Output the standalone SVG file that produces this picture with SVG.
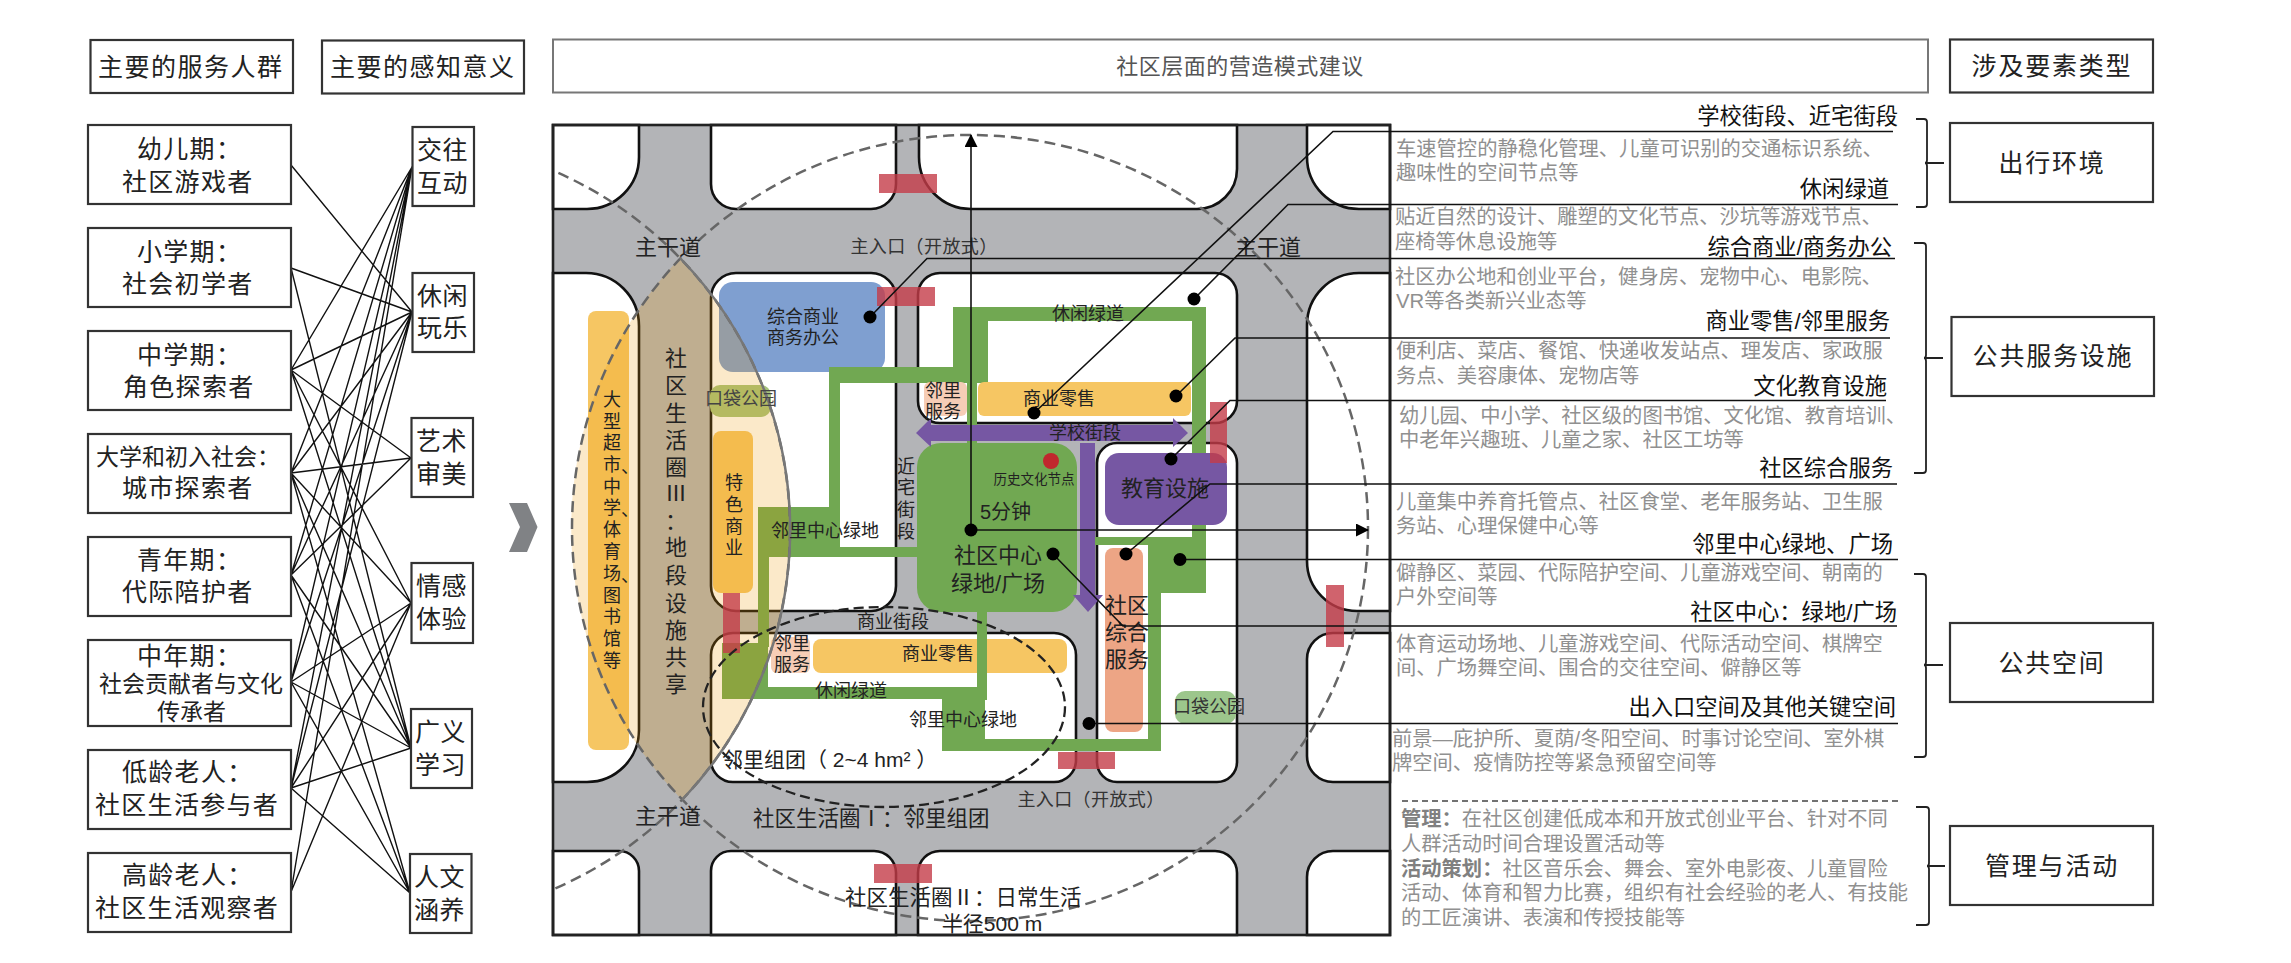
<svg xmlns="http://www.w3.org/2000/svg" width="2291" height="963" viewBox="0 0 2291 963">
<defs>
<style>
text{font-family:"Liberation Sans","Noto Sans CJK SC",sans-serif;dominant-baseline:central;fill:#222}
.box{fill:#fff;stroke:#333;stroke-width:2.2}
.h{font-size:25px;letter-spacing:1.5px}
.p{font-size:25px;letter-spacing:1.3px}
.s{font-size:23px}
.two{font-size:25px;letter-spacing:.5px}
.type{font-size:25px;letter-spacing:1.8px;text-anchor:middle}
.link{stroke:#111;stroke-width:1.4;fill:none}
.blk{fill:#fff;stroke:#111;stroke-width:2.6}
.g{fill:#71a852}
.y{fill:#f6c663}
.sv{fill:#f6cdb6}
.r{fill:#c43c48;opacity:.8}
.m{font-size:18px;text-anchor:middle}
.b{font-size:22px;text-anchor:middle}
.lead{stroke:#111;stroke-width:1.6;fill:none}
.dot{fill:#000}
.tt{font-size:22.3px;text-anchor:end;fill:#111}
.d{font-size:20.3px;fill:#909090}
.dz{font-weight:700;fill:#808080}
.br{stroke:#222;stroke-width:1.8;fill:none}
</style>
<marker id="ah" markerWidth="13" markerHeight="14" refX="12" refY="6.5" orient="auto" markerUnits="userSpaceOnUse"><path d="M0 0L13 6.5L0 13Z" fill="#000"/></marker>
<clipPath id="cf"><rect x="553" y="125" width="837" height="810"/></clipPath>
</defs>
<rect width="2291" height="963" fill="#fff"/>

<g id="head-people"><rect class="box" x="90.5" y="40" width="202.500" height="53"/><text class="h" x="98" y="67">主要的服务人群</text></g>
<g id="head-sense"><rect class="box" x="322" y="40.500" width="202" height="53"/><text class="h" x="330" y="67">主要的感知意义</text></g>
<g id="head-mode"><rect x="553" y="39.500" width="1375" height="53" fill="#fff" stroke="#777" stroke-width="2"/><text x="1240" y="66" font-size="22" text-anchor="middle" style="fill:#555;letter-spacing:.5px">社区层面的营造模式建议</text></g>
<g id="head-type"><rect class="box" x="1950" y="39.500" width="203" height="53"/><text class="type" x="2052" y="66">涉及要素类型</text></g>

<g id="connectors">
<path class="link" d="M291 165L412 312M291 268L412 312M291 268L411 748M291 370L412 167M291 370L412 312M291 370L411 458M291 370L411 603M291 370L411 748M291 473L412 167M291 473L412 312M291 473L411 458M291 473L411 603M291 473L411 748M291 473L410 893M291 575L412 167M291 575L412 312M291 575L411 458M291 575L411 748M291 575L410 893M291 682L412 167M291 682L412 312M291 682L411 603M291 682L411 748M291 682L410 893M291 788L412 167M291 788L412 312M291 788L411 603M291 788L411 748M291 788L410 893M291 892L412 167M291 892L411 603"/>
</g>

<g id="p1"><rect class="box" x="88" y="125" width="203" height="79"/><text class="p" x="137" y="149">幼儿期：</text><text class="p" x="122" y="182">社区游戏者</text></g>
<g id="p2"><rect class="box" x="88" y="228" width="203" height="79"/><text class="p" x="137" y="252">小学期：</text><text class="p" x="122" y="284">社会初学者</text></g>
<g id="p3"><rect class="box" x="88" y="331" width="203" height="79"/><text class="p" x="137" y="355">中学期：</text><text class="p" x="123" y="387">角色探索者</text></g>
<g id="p4"><rect class="box" x="88" y="434" width="203" height="79"/><text class="s" x="96" y="457">大学和初入社会：</text><text class="p" x="122" y="488">城市探索者</text></g>
<g id="p5"><rect class="box" x="88" y="537" width="203" height="79"/><text class="p" x="137" y="560">青年期：</text><text class="p" x="122" y="592">代际陪护者</text></g>
<g id="p6"><rect class="box" x="88" y="640" width="203" height="86"/><text class="p" x="137" y="656">中年期：</text><text class="s" x="99" y="684">社会贡献者与文化</text><text class="s" x="157" y="712">传承者</text></g>
<g id="p7"><rect class="box" x="88" y="750" width="203" height="79"/><text class="p" x="122" y="772">低龄老人：</text><text class="p" x="95" y="805">社区生活参与者</text></g>
<g id="p8"><rect class="box" x="88" y="853" width="203" height="79"/><text class="p" x="122" y="875">高龄老人：</text><text class="p" x="95" y="908">社区生活观察者</text></g>

<g id="s1"><rect class="box" x="412.500" y="127" width="61.500" height="79"/><text class="two" x="417" y="150">交往</text><text class="two" x="417" y="183">互动</text></g>
<g id="s2"><rect class="box" x="412.500" y="273" width="61.500" height="79"/><text class="two" x="417" y="296">休闲</text><text class="two" x="417" y="328">玩乐</text></g>
<g id="s3"><rect class="box" x="411.500" y="418" width="61.500" height="79"/><text class="two" x="416" y="441">艺术</text><text class="two" x="416" y="474">审美</text></g>
<g id="s4"><rect class="box" x="411.500" y="563" width="61.500" height="80"/><text class="two" x="416" y="586">情感</text><text class="two" x="416" y="619">体验</text></g>
<g id="s5"><rect class="box" x="411" y="709" width="61" height="79"/><text class="two" x="415" y="732">广义</text><text class="two" x="415" y="765">学习</text></g>
<g id="s6"><rect class="box" x="410" y="854" width="61.500" height="79"/><text class="two" x="414" y="877">人文</text><text class="two" x="414" y="910">涵养</text></g>

<polygon id="chevron" points="509,503 527,503 537.500,527 527,552 509,552 520,527" fill="#808285"/>

<g id="map">
<rect x="553" y="125" width="837" height="810" fill="#b3b4b7"/>
<path class="blk" d="M553 125H639V157A52 52 0 0 1 587 209H553Z"/>
<path class="blk" d="M711 125H896V184A25 25 0 0 1 871 209H736A25 25 0 0 1 711 184Z"/>
<path class="blk" d="M919 125H1237V169A40 40 0 0 1 1197 209H971A52 52 0 0 1 919 157Z"/>
<path class="blk" d="M1307 125H1390V209H1359A52 52 0 0 1 1307 157Z"/>
<path class="blk" d="M553 273H586A53 53 0 0 1 639 326V730A52 52 0 0 1 587 782H553Z"/>
<rect class="blk" x="711" y="273" width="185" height="338" rx="25"/>
<rect class="blk" x="918" y="273" width="319" height="150" rx="22"/>
<path class="blk" d="M1359 273H1390V611H1357A50 50 0 0 1 1307 561V325A52 52 0 0 1 1359 273Z"/>
<path class="blk" d="M1333 633H1390V782H1333A26 26 0 0 1 1307 756V659A26 26 0 0 1 1333 633Z"/>
<rect class="blk" x="711" y="633" width="365" height="149" rx="22"/>
<rect class="blk" x="1097" y="443" width="140" height="339" rx="20"/>
<path class="blk" d="M553 851H619A20 20 0 0 1 639 871V935H553Z"/>
<path class="blk" d="M731 851H874A22 22 0 0 1 896 873V935H711V871A20 20 0 0 1 731 851Z"/>
<path class="blk" d="M940 851H1215A22 22 0 0 1 1237 873V935H918V873A22 22 0 0 1 940 851Z"/>
<path class="blk" d="M1333 851H1390V935H1307V877A26 26 0 0 1 1333 851Z"/>

<rect class="y" x="588" y="311" width="41" height="439" rx="8"/>
<rect x="719" y="282" width="166" height="90" rx="14" fill="#7f9fd0"/>
<rect class="y" x="713" y="431" width="40" height="162" rx="8"/>
<rect class="y" x="813" y="639" width="254" height="34" rx="8"/>
<rect class="sv" x="771" y="637" width="39" height="36" rx="6"/>

<g id="greenway">
<rect class="g" x="829" y="367" width="124" height="16"/>
<rect class="g" x="829" y="367" width="11" height="140"/>
<rect class="g" x="758" y="507" width="82" height="50"/>
<rect class="g" x="758" y="557" width="11" height="90"/>
<rect class="g" x="722" y="643" width="46" height="56"/>
<rect class="g" x="722" y="687" width="265" height="12"/>
<rect class="g" x="840" y="547" width="77" height="10"/>
<rect class="g" x="953" y="307" width="35" height="76"/>
<rect class="g" x="953" y="307" width="253" height="14"/>
<rect class="g" x="1192" y="307" width="14" height="286"/>
<rect class="g" x="1148" y="537" width="58" height="56"/>
<rect class="g" x="1095" y="537" width="53" height="8"/>
<rect class="g" x="1148" y="537" width="13" height="214"/>
<rect class="g" x="942" y="739" width="219" height="12"/>
<rect class="g" x="942" y="699" width="43" height="52"/>
<rect class="g" x="977" y="612" width="10" height="88"/>
<rect class="g" x="967" y="383" width="10" height="60"/>
</g>

<rect class="y" x="978" y="382" width="213" height="34" rx="6"/>
<rect class="sv" x="924" y="382" width="43" height="34" rx="6"/>
<rect class="g" x="917" y="443" width="160" height="169" rx="24"/>
<polygon points="916,433 931,418 931,425 1173,425 1173,418 1188,433 1173,447 1173,441 931,441 931,447" fill="#7657a3"/>
<polygon points="1080,443 1095,443 1095,595 1103,595 1088,612 1073,595 1080,595" fill="#7657a3"/>
<rect x="1105" y="453" width="122" height="72" rx="14" fill="#7657a3"/>
<rect x="1105" y="548" width="38" height="184" rx="8" fill="#eda585"/>
<rect x="1175" y="691" width="61" height="33" rx="10" fill="#9cc68c"/>
<rect x="710" y="385" width="61" height="32" rx="10" fill="#a7c47c"/>
<circle cx="1051" cy="461" r="8" fill="#c0282d"/>

<path d="M680 258A398 393 0 0 0 682 800A391 391 0 0 0 680 258Z" fill="#ee9600" fill-opacity=".21"/>

<rect class="r" x="879" y="174" width="58" height="19"/>
<rect class="r" x="877" y="287" width="58" height="19"/>
<rect class="r" x="723" y="593" width="17" height="60"/>
<rect class="r" x="1210" y="402" width="17" height="61"/>
<rect class="r" x="1326" y="585" width="18" height="62"/>
<rect class="r" x="1058" y="752" width="57" height="17"/>
<rect class="r" x="874" y="864" width="58" height="19"/>

<g clip-path="url(#cf)" fill="none">
<ellipse cx="970" cy="528" rx="398" ry="393" stroke="#666" stroke-width="2.500" stroke-dasharray="11 6"/>
<circle cx="399" cy="530" r="391" stroke="#666" stroke-width="2.500" stroke-dasharray="11 6"/>
<path d="M682 800A391 391 0 0 0 680 258" stroke="#777" stroke-width="2.500"/>
<ellipse cx="884" cy="707" rx="181" ry="100" stroke="#222" stroke-width="2.300" stroke-dasharray="10 5"/>
</g>
<rect x="553" y="125" width="837" height="810" fill="none" stroke="#222" stroke-width="2.600"/>

<text class="b" x="668" y="247">主干道</text>
<text class="b" x="1268" y="247">主干道</text>
<text class="b" x="668" y="816">主干道</text>
<text class="m" x="924" y="247" style="fill:#333;letter-spacing:.4px">主入口（开放式）</text>
<text class="m" x="1091" y="800" style="fill:#333;letter-spacing:.4px">主入口（开放式）</text>
<text class="m" x="803" y="317">综合商业</text><text class="m" x="803" y="338">商务办公</text>
<text class="m" x="741" y="399" style="fill:#444">口袋公园</text>
<text class="m" x="1209" y="707" style="fill:#333">口袋公园</text>
<text class="m" x="943" y="391">邻里</text><text class="m" x="943" y="412">服务</text>
<text class="m" x="1059" y="399">商业零售</text>
<text class="m" x="1088" y="314">休闲绿道</text>
<text class="m" x="1085" y="433">学校街段</text>
<text x="1034" y="479" font-size="13.500" text-anchor="middle">历史文化节点</text>
<text x="980" y="512" font-size="20">5分钟</text>
<text class="m" x="906 906 906 906" y="467 488 510 532">近宅街段</text>
<text class="b" x="998" y="555">社区中心</text><text class="b" x="998" y="583">绿地/广场</text>
<text class="b" x="1165" y="488">教育设施</text>
<text class="b" x="1127" y="605">社区</text><text class="b" x="1127" y="632">综合</text><text class="b" x="1127" y="659">服务</text>
<text class="m" x="825" y="531">邻里中心绿地</text>
<text class="m" x="893" y="622">商业街段</text>
<text class="m" x="792" y="644">邻里</text><text class="m" x="792" y="665">服务</text>
<text class="m" x="938" y="654">商业零售</text>
<text class="m" x="851" y="691">休闲绿道</text>
<text class="m" x="963" y="720">邻里中心绿地</text>
<text x="722" y="759" font-size="21" xml:space="preserve">邻里组团（ 2~4 hm² ）</text>
<text x="753" y="819" font-size="21.500">社区生活圈Ⅰ：邻里组团</text>
<text x="845" y="898" font-size="21.500">社区生活圈Ⅱ：日常生活</text>
<text x="992" y="923" font-size="21" text-anchor="middle">半径500 m</text>
<text class="b" x="676 676 676 676 676 676 676 676 676 676 676 676 676" y="358 385 413 440 467 493 521 547 575 603 630 657 684">社区生活圈Ⅲ：地段设施共享</text>
<text class="m" x="612 612 612 612 630 612 612 630 612 612 612 630 612 612 612 612" y="400 422 443 465 467 487 508 510 530 552 574 576 596 617 639 661">大型超市、中学、体育场、图书馆等</text>
<text class="m" x="734 734 734 734" y="483 505 527 548">特色商业</text>

<g id="leaders">
<path class="lead" d="M870 317L927 258.500H1895"/>
<path class="lead" d="M1034 413L1333 131.500H1893"/>
<path class="lead" d="M1194 299L1288 204.500H1898"/>
<path class="lead" d="M1176 396L1235 338H1890"/>
<path class="lead" d="M1171 459L1230 400.500H1886"/>
<path class="lead" d="M1126 554L1210 484H1897"/>
<path class="lead" d="M1180 559.500H1898"/>
<path class="lead" d="M1053 554L1123 626H1897"/>
<path class="lead" d="M1089 723.500H1898"/>
<path class="lead" d="M971 530V135" marker-end="url(#ah)"/>
<path class="lead" d="M971 530H1368" marker-end="url(#ah)"/>
<circle class="dot" cx="870" cy="317" r="6.500"/><circle class="dot" cx="1034" cy="413" r="6.500"/><circle class="dot" cx="1194" cy="299" r="6.500"/><circle class="dot" cx="1176" cy="396" r="6.500"/><circle class="dot" cx="1171" cy="459" r="6.500"/><circle class="dot" cx="1126" cy="554" r="6.500"/><circle class="dot" cx="1180" cy="559.500" r="6.500"/><circle class="dot" cx="1053" cy="554" r="6.500"/><circle class="dot" cx="1089" cy="723.500" r="6.500"/><circle class="dot" cx="971" cy="530" r="6.500"/>
</g>
</g>

<g id="details">
<text class="tt" x="1898" y="116">学校街段、近宅街段</text>
<text class="d" x="1396" y="149">车速管控的静稳化管理、儿童可识别的交通标识系统、</text>
<text class="d" x="1396" y="173">趣味性的空间节点等</text>
<text class="tt" x="1889" y="189">休闲绿道</text>
<text class="d" x="1395" y="217">贴近自然的设计、雕塑的文化节点、沙坑等游戏节点、</text>
<text class="d" x="1395" y="242">座椅等休息设施等</text>
<text class="tt" x="1892" y="247">综合商业/商务办公</text>
<text class="d" x="1395" y="277">社区办公地和创业平台，健身房、宠物中心、电影院、</text>
<text class="d" x="1396" y="301">VR等各类新兴业态等</text>
<text class="tt" x="1890" y="321">商业零售/邻里服务</text>
<text class="d" x="1396" y="351">便利店、菜店、餐馆、快递收发站点、理发店、家政服</text>
<text class="d" x="1396" y="376">务点、美容康体、宠物店等</text>
<text class="tt" x="1887" y="386">文化教育设施</text>
<text class="d" x="1399" y="416">幼儿园、中小学、社区级的图书馆、文化馆、教育培训、</text>
<text class="d" x="1399" y="440">中老年兴趣班、儿童之家、社区工坊等</text>
<text class="tt" x="1893" y="468">社区综合服务</text>
<text class="d" x="1396" y="502">儿童集中养育托管点、社区食堂、老年服务站、卫生服</text>
<text class="d" x="1396" y="526">务站、心理保健中心等</text>
<text class="tt" x="1893" y="544">邻里中心绿地、广场</text>
<text class="d" x="1396" y="573">僻静区、菜园、代际陪护空间、儿童游戏空间、朝南的</text>
<text class="d" x="1396" y="597">户外空间等</text>
<text class="tt" x="1897" y="612">社区中心：绿地/广场</text>
<text class="d" x="1396" y="644">体育运动场地、儿童游戏空间、代际活动空间、棋牌空</text>
<text class="d" x="1396" y="668">间、广场舞空间、围合的交往空间、僻静区等</text>
<text class="tt" x="1896" y="707">出入口空间及其他关键空间</text>
<text class="d" x="1392" y="739">前景—庇护所、夏荫/冬阳空间、时事讨论空间、室外棋</text>
<text class="d" x="1392" y="763">牌空间、疫情防控等紧急预留空间等</text>
<path d="M1402 801H1900" stroke="#444" stroke-width="1.600" stroke-dasharray="6 4"/>
<text class="d" x="1401" y="819"><tspan class="dz">管理：</tspan>在社区创建低成本和开放式创业平台、针对不同</text>
<text class="d" x="1401" y="844">人群活动时间合理设置活动等</text>
<text class="d" x="1401" y="869"><tspan class="dz">活动策划：</tspan>社区音乐会、舞会、室外电影夜、儿童冒险</text>
<text class="d" x="1401" y="893">活动、体育和智力比赛，组织有社会经验的老人、有技能</text>
<text class="d" x="1401" y="918">的工匠演讲、表演和传授技能等</text>
</g>

<g id="braces">
<path class="br" d="M1916 119H1924Q1927 119 1927 122V160Q1927 163 1925 163Q1927 163 1927 166V204Q1927 207 1924 207H1916M1925 163H1944"/>
<path class="br" d="M1914 243H1923Q1926 243 1926 246V355Q1926 358 1924 358Q1926 358 1926 361V470Q1926 473 1923 473H1914M1924 358H1943"/>
<path class="br" d="M1914 574H1923Q1926 574 1926 577V662Q1926 665 1924 665Q1926 665 1926 668V754Q1926 757 1923 757H1914M1924 665H1943"/>
<path class="br" d="M1916 807H1926Q1929 807 1929 810V863Q1929 866 1927 866Q1929 866 1929 869V922Q1929 925 1926 925H1916M1927 866H1945"/>
</g>

<g id="t1"><rect class="box" x="1950" y="123" width="203" height="79"/><text class="type" x="2052" y="163">出行环境</text></g>
<g id="t2"><rect class="box" x="1951.500" y="317" width="202.500" height="79"/><text class="type" x="2053" y="356">公共服务设施</text></g>
<g id="t3"><rect class="box" x="1950" y="623" width="203" height="79"/><text class="type" x="2052" y="663">公共空间</text></g>
<g id="t4"><rect class="box" x="1950" y="826" width="203" height="79"/><text class="type" x="2052" y="866">管理与活动</text></g>
</svg>
